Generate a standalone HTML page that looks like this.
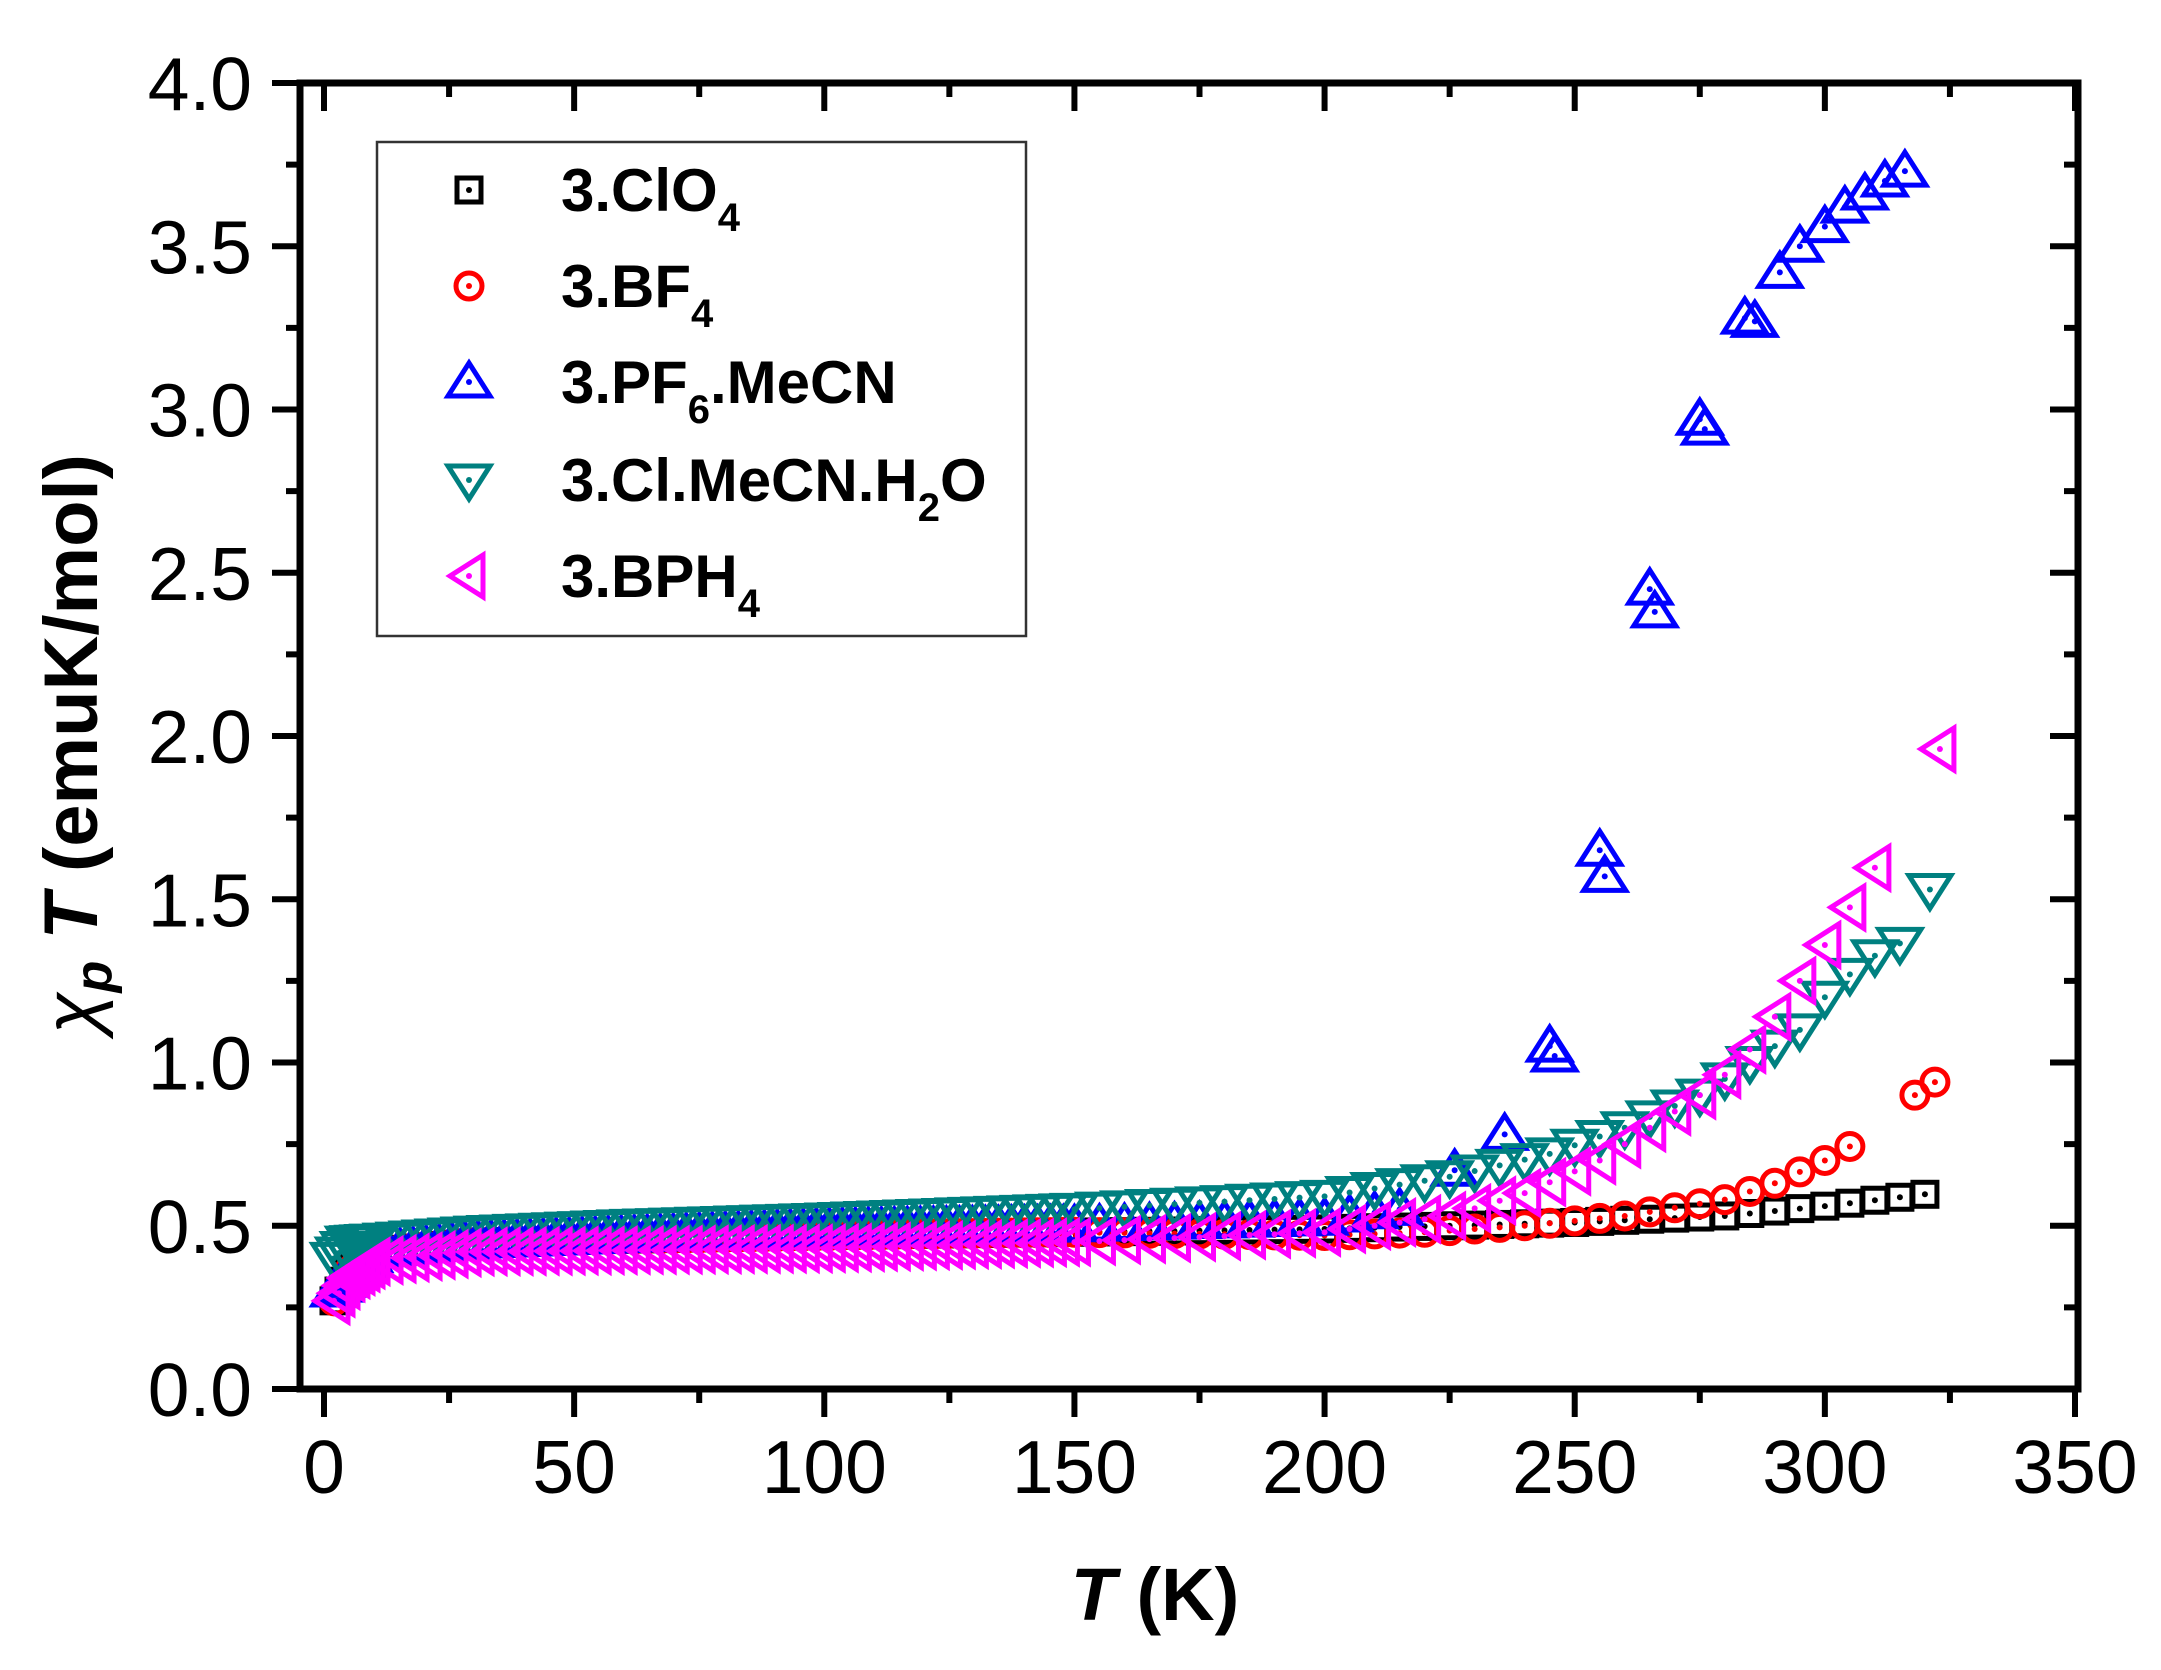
<!DOCTYPE html>
<html><head><meta charset="utf-8"><style>
html,body{margin:0;padding:0;background:#fff;}
svg{display:block;}
text{font-family:"Liberation Sans",Arial,sans-serif;}
</style></head><body>
<svg id="s" width="2161" height="1670" viewBox="0 0 2161 1670" xmlns="http://www.w3.org/2000/svg">
<rect width="2161" height="1670" fill="#fff"/>
<g id="data"></g>
<g id="axes" fill="none" stroke="#000" stroke-width="7"></g>
<g id="labels" font-size="75" fill="#000"></g>
<text x="1155" y="1620" font-size="74" font-weight="bold" text-anchor="middle"><tspan font-style="italic">T</tspan> (K)</text>
<text transform="translate(97,744) rotate(-90)" font-size="76" font-weight="bold" text-anchor="middle"><tspan font-style="italic" font-weight="normal">χ</tspan><tspan font-style="italic" font-size="52" dy="14">p</tspan><tspan dy="-14" font-style="italic"> T</tspan> (emuK/mol)</text>
<rect x="377" y="142" width="649" height="494" fill="none" stroke="#333" stroke-width="2.5"/>
<g id="leg" font-size="60" font-weight="bold">
<text x="561" y="211">3.ClO<tspan font-size="40" dy="20">4</tspan></text>
<text x="561" y="307">3.BF<tspan font-size="40" dy="20">4</tspan></text>
<text x="561" y="403">3.PF<tspan font-size="40" dy="20">6</tspan><tspan dy="-20">.MeCN</tspan></text>
<text x="561" y="501">3.Cl.MeCN.H<tspan font-size="40" dy="20">2</tspan><tspan dy="-20">O</tspan></text>
<text x="561" y="597">3.BPH<tspan font-size="40" dy="20">4</tspan></text>
</g>
</svg>
<script>
const NS="http://www.w3.org/2000/svg";
const X0=324,XS=(2075-324)/350,Y0=1389,YS=(1389-83)/4;
const px=t=>X0+t*XS, py=v=>Y0-v*YS;
function el(tag,attrs,parent){const e=document.createElementNS(NS,tag);for(const k in attrs)e.setAttribute(k,attrs[k]);parent.appendChild(e);return e;}
const ax=document.getElementById('axes'),lab=document.getElementById('labels');
el('rect',{x:300,y:83,width:1778,height:1306},ax);
for(let t=0;t<=350;t+=25){const x=px(t);const L=t%50==0?28:14;
 el('line',{x1:x,y1:1389,x2:x,y2:1389+L,'stroke-width':6},ax);
 el('line',{x1:x,y1:83,x2:x,y2:83+L,'stroke-width':6},ax);
 if(t%50==0){const tx=el('text',{x:x,y:1493,'text-anchor':'middle'},lab);tx.textContent=t;}}
for(let i=0;i<=16;i++){const v=i*0.25,y=py(v);const L=i%2==0?28:14;
 el('line',{x1:300,y1:y,x2:300-L,y2:y,'stroke-width':6},ax);
 el('line',{x1:2078,y1:y,x2:2078-L,y2:y,'stroke-width':6},ax);
 if(i%2==0){const tx=el('text',{x:252,y:y+27,'text-anchor':'end'},lab);tx.textContent=v.toFixed(1);}}
function interp(pts,t){for(let i=0;i<pts.length-1;i++){if(t<=pts[i+1][0]){const a=pts[i],b=pts[i+1];return a[1]+(b[1]-a[1])*(t-a[0])/(b[0]-a[0]);}}return pts[pts.length-1][1];}
function temps(max,extra){const a=[];for(let t=2;t<10;t+=1)a.push(t);for(let t=10;t<150;t+=2.6)a.push(t);for(let t=150;t<=max;t+=5)a.push(t);return a.concat(extra||[]);}
function marker(g,type,color,x,y){const s=5,st={fill:'none',stroke:color,'stroke-width':s};
 if(type=='sq')el('rect',Object.assign({x:x-12,y:y-12,width:24,height:24},st),g);
 else if(type=='ci')el('circle',Object.assign({cx:x,cy:y,r:13},st),g);
 else if(type=='up')el('polygon',Object.assign({points:`${x},${y-19} ${x+21},${y+14} ${x-21},${y+14}`},st),g);
 else if(type=='dn')el('polygon',Object.assign({points:`${x},${y+19} ${x+21},${y-14} ${x-21},${y-14}`},st),g);
 else if(type=='lt')el('polygon',Object.assign({points:`${x-19},${y} ${x+14},${y-21} ${x+14},${y+21}`},st),g);
 el('circle',{cx:x,cy:y,r:3,fill:color},g);}
const g=document.getElementById('data');
const base=[[2,0.27],[5,0.36],[10,0.42],[30,0.45],[100,0.47],[150,0.48],[200,0.49],[250,0.51]];
const series=[
 ['sq','#000',base.concat([[280,0.53],[300,0.56],[322,0.6]]),322,[]],
 ['ci','#f00',base.slice(0,6).concat([[200,0.47],[220,0.48],[240,0.5],[260,0.53],[280,0.58],[290,0.63],[300,0.7],[307,0.76],[318,0.9],[322,0.94]]),307,[318,322]],
 ['up','#00f',null,0],
 ['dn','#008080',[[2,0.4],[5,0.45],[30,0.48],[60,0.5],[100,0.52],[150,0.55],[200,0.59],[225,0.65],[245,0.72],[260,0.8],[275,0.9],[285,1.0],[295,1.1],[300,1.2],[305,1.27],[312,1.35],[316,1.37],[321,1.53]],316,[321]],
 ['lt','#f0f',[[2,0.27],[5,0.34],[10,0.39],[30,0.42],[100,0.43],[150,0.45],[200,0.48],[225,0.53],[240,0.6],[255,0.7],[265,0.8],[275,0.9],[283,1.0],[288,1.1],[293,1.2],[297,1.3],[302,1.4],[308,1.55],[311,1.62],[323,1.96]],311,[323]]
];
series.forEach(([type,c,pts,max,extra])=>{
 if(type=='up'){
  const low=[[2,0.3],[10,0.42],[30,0.45],[100,0.49],[150,0.5],[200,0.52],[215,0.55]];
  temps(215).forEach(t=>marker(g,type,c,px(t),py(interp(low,t))));
  [[226,0.67],[236,0.78],[245,1.05],[246,1.02],[255,1.65],[256,1.57],[265,2.45],[266,2.38],[275,2.97],[276,2.94],[284,3.28],[286,3.27],[291,3.42],[295,3.5],[300,3.56],[304,3.62],[308,3.66],[312,3.7],[316,3.73]].forEach(p=>marker(g,type,c,px(p[0]),py(p[1])));
 } else temps(max,extra).forEach(t=>marker(g,type,c,px(t),py(interp(pts,t))));
});
const lg=document.getElementById('data');
marker(lg,'sq','#000',469,190);marker(lg,'ci','#f00',469,286);marker(lg,'up','#00f',469,382);marker(lg,'dn','#008080',469,480);marker(lg,'lt','#f0f',469,576);
</script>
</body></html>
